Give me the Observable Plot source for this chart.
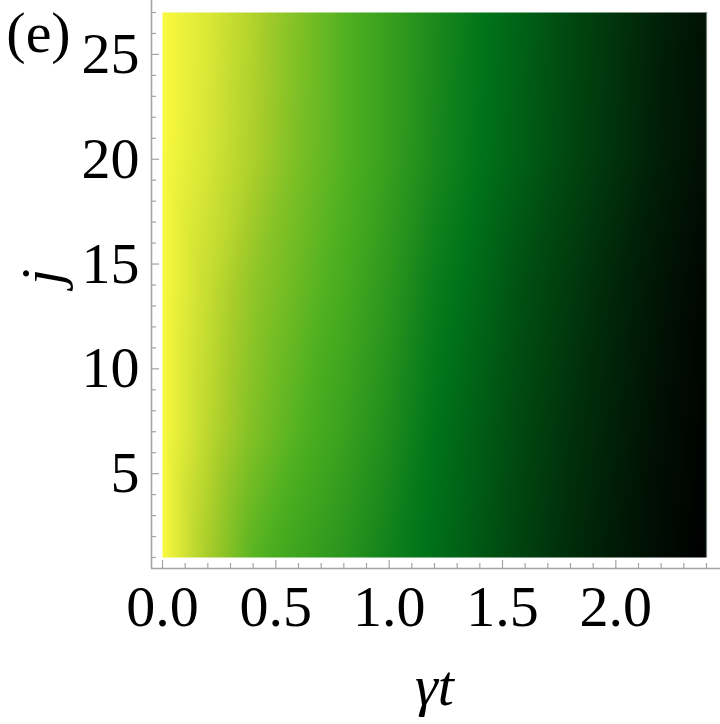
<!DOCTYPE html>
<html>
<head>
<meta charset="utf-8">
<script src="https://cdn.jsdelivr.net/npm/d3@7"></script>
<script src="https://cdn.jsdelivr.net/npm/@observablehq/plot@0.6"></script>
<style>
  html, body { margin: 0; padding: 0; background: white; }
  #chart { width: 720px; height: 724px; }
</style>
</head>
<body>
<div id="chart"></div>
<script>
// sampled time columns (γt) and site rows (j)
const gammaT = [0, 0.2, 0.4, 0.6, 0.8, 1.0, 1.2, 1.4, 1.6, 1.8, 2.0, 2.2, 2.4];
const jRows = [1, 7, 14, 20, 27];
// colour-map level, one list per row
const row_j1  = [1.0, 0.84, 0.70, 0.62, 0.55, 0.46, 0.38, 0.30, 0.22, 0.15, 0.09, 0.04, 0.00];
const row_j7  = [1.0, 0.88, 0.77, 0.69, 0.61, 0.51, 0.40, 0.32, 0.24, 0.17, 0.11, 0.05, 0.01];
const row_j14 = [1.0, 0.90, 0.80, 0.73, 0.66, 0.56, 0.44, 0.36, 0.27, 0.20, 0.13, 0.07, 0.02];
const row_j20 = [1.0, 0.93, 0.85, 0.76, 0.69, 0.60, 0.49, 0.40, 0.32, 0.24, 0.17, 0.10, 0.05];
const row_j27 = [1.0, 0.94, 0.86, 0.77, 0.69, 0.60, 0.50, 0.41, 0.33, 0.25, 0.18, 0.11, 0.06];
const rows = [row_j1, row_j7, row_j14, row_j20, row_j27];

// colour map (Avocado-like)
const colorStops = [0, 0.4, 0.68, 0.84, 1];
const colorRange = ["#000000", "#00741a", "#4eb020", "#a8cd2a", "#faf93e"];

// ticks
const xMajor = [0, 0.5, 1.0, 1.5, 2.0];
const xMinor = [0.1,0.2,0.3,0.4,0.6,0.7,0.8,0.9,1.1,1.2,1.3,1.4,1.6,1.7,1.8,1.9,2.1,2.2,2.3,2.4];
const yMajor = [5, 10, 15, 20, 25];
const yMinor = [1,2,3,4,6,7,8,9,11,12,13,14,16,17,18,19,21,22,23,24,26,27];

const points = [];
jRows.forEach((j, r) => gammaT.forEach((t, c) => points.push({t, j, v: rows[r][c]})));

const axisGray = "#a3a3a3";
const FS = 58;

const chart = Plot.plot({
  width: 720,
  height: 724,
  marginLeft: 162,
  marginRight: 14,
  marginTop: 12,
  marginBottom: 167,
  style: {fontFamily: "'Liberation Serif', 'Times New Roman', serif", fontSize: FS + "px", background: "white", overflow: "visible"},
  x: {domain: [0, 2.4], axis: null},
  y: {domain: [1, 27], axis: null},
  color: {type: "linear", domain: colorStops, range: colorRange, interpolate: "rgb"},
  marks: [
    Plot.raster(points, {x: "t", y: "j", fill: "v", interpolate: "barycentric", x1: 0, x2: 2.4, y1: 1, y2: 27, pixelSize: 1}),
    Plot.ruleX([2.4], {stroke: "#6f7f6f", strokeWidth: 1.2}),
    // axis lines (offset from the frame)
    Plot.ruleX([0], {dx: -11, insetTop: -12, insetBottom: -11, stroke: axisGray, strokeWidth: 1.6}),
    Plot.ruleY([1], {dy: 11, insetLeft: -11, insetRight: -14, stroke: axisGray, strokeWidth: 1.6}),
    // y ticks
    Plot.axisY(yMinor, {anchor: "left", tickSize: -5, dx: -11, fill: null, label: null, stroke: axisGray, strokeWidth: 1.2}),
    Plot.axisY(yMajor, {anchor: "left", tickSize: -8, dx: -11, tickPadding: 20, label: null, stroke: axisGray, strokeWidth: 1.2, fill: "black", fontSize: FS}),
    // x ticks
    Plot.axisX(xMinor, {anchor: "bottom", tickSize: -5, dy: 11, fill: null, label: null, stroke: axisGray, strokeWidth: 1.2}),
    Plot.axisX(xMajor, {anchor: "bottom", tickSize: -8, dy: 11, tickPadding: 24, label: null, stroke: axisGray, strokeWidth: 1.2, fill: "black", fontSize: FS, tickFormat: d => d.toFixed(1)}),
    // labels
    Plot.text(["j"], {frameAnchor: "left", dx: -120, rotate: -90, fontStyle: "italic", fontSize: FS, fill: "black", lineAnchor: "middle"}),
    Plot.text(["γt"], {frameAnchor: "bottom", dy: 129, fontStyle: "italic", fontSize: FS, fill: "black", lineAnchor: "middle"}),
    Plot.text(["(e)"], {frameAnchor: "top-left", dx: -124, dy: 21, fontSize: FS, fill: "black", lineAnchor: "middle", textAnchor: "middle"})
  ]
});
document.getElementById("chart").appendChild(chart);
</script>
</body>
</html>
